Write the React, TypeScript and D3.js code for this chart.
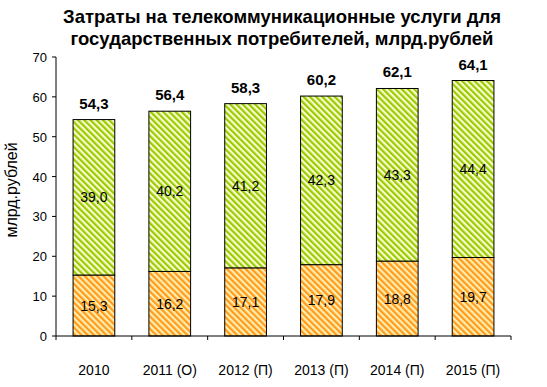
import React from 'react';
import * as d3 from 'd3';

const years = ['2010', '2011 (О)', '2012 (П)', '2013 (П)', '2014 (П)', '2015 (П)'];
const lower = [15.3, 16.2, 17.1, 17.9, 18.8, 19.7];
const upper = [39.0, 40.2, 41.2, 42.3, 43.3, 44.4];
const totals = [54.3, 56.4, 58.3, 60.2, 62.1, 64.1];
const yTicks = [0, 10, 20, 30, 40, 50, 60, 70];

const fmt = (v: number) => v.toFixed(1).replace('.', ',');
const font = 'Arial, "Liberation Sans", sans-serif';

export default function App() {
  const width = 547;
  const height = 387;
  const x = d3.scaleBand().domain(years).range([56, 511]).paddingInner(0.45).paddingOuter(0.225);
  const y = d3.scaleLinear().domain([0, 70]).range([336, 57]);
  const step = x.step();

  return (
    <svg width={width} height={height} style={{ position: 'absolute', left: 0, top: 0 }}>
      <defs>
        <pattern id="green" width="4.4" height="4.4" patternUnits="userSpaceOnUse" patternTransform="rotate(-45)">
          <rect width="4.4" height="4.4" fill="#fbfbd0" />
          <rect width="2.2" height="4.4" fill="#99cc00" />
        </pattern>
        <pattern id="orange" width="4.4" height="4.4" patternUnits="userSpaceOnUse" patternTransform="rotate(-45)">
          <rect width="4.4" height="4.4" fill="#ffeeb0" />
          <rect width="2.2" height="4.4" fill="#ff9a1a" />
        </pattern>
      </defs>
      <rect width={width} height={height} fill="#fff" />
      <g fontFamily={font} fontWeight="bold" fontSize="18.5" textAnchor="middle">
        <text x={282} y={23}>Затраты на телекоммуникационные услуги для</text>
        <text x={282} y={45}>государственных потребителей, млрд.рублей</text>
      </g>

      {years.map((yr, i) => {
        const bx = x(yr)!;
        const bw = x.bandwidth();
        const cx = bx + bw / 2;
        const b0 = y(0), b1 = y(lower[i]), b2 = y(lower[i] + upper[i]);
        return (
          <g key={yr}>
            <rect x={bx} y={b1} width={bw} height={b0 - b1} fill="url(#orange)" stroke="#000" strokeWidth={1} />
            <rect x={bx} y={b2} width={bw} height={b1 - b2} fill="url(#green)" stroke="#000" strokeWidth={1} />
            <text x={cx} y={y(lower[i] / 2) + 5} fontFamily={font} fontSize="14" textAnchor="middle">{fmt(lower[i])}</text>
            <text x={cx} y={y(lower[i] + upper[i] / 2) + 5} fontFamily={font} fontSize="14" textAnchor="middle">{fmt(upper[i])}</text>
            <text x={cx} y={y(totals[i]) - 11} fontFamily={font} fontSize="15" fontWeight="bold" textAnchor="middle">{fmt(totals[i])}</text>
            <text x={cx} y={375} fontFamily={font} fontSize="14" textAnchor="middle">{yr}</text>
          </g>
        );
      })}

      <line x1={56} x2={56} y1={y(70)} y2={y(0)} stroke="#000" />
      {yTicks.map(t => (
        <g key={t}>
          <line x1={52} x2={56} y1={y(t)} y2={y(t)} stroke="#000" />
          <text x={47} y={y(t) + 5} fontFamily={font} fontSize="13" textAnchor="end">{t}</text>
        </g>
      ))}
      <line x1={56} x2={511} y1={y(0)} y2={y(0)} stroke="#000" />
      {d3.range(years.length + 1).map(i => (
        <line key={i} x1={56 + i * step} x2={56 + i * step} y1={y(0)} y2={y(0) + 4} stroke="#000" />
      ))}
      <text transform={`translate(17,190) rotate(-90)`} fontFamily={font} fontSize="16" textAnchor="middle">млрд.рублей</text>
    </svg>
  );
}
